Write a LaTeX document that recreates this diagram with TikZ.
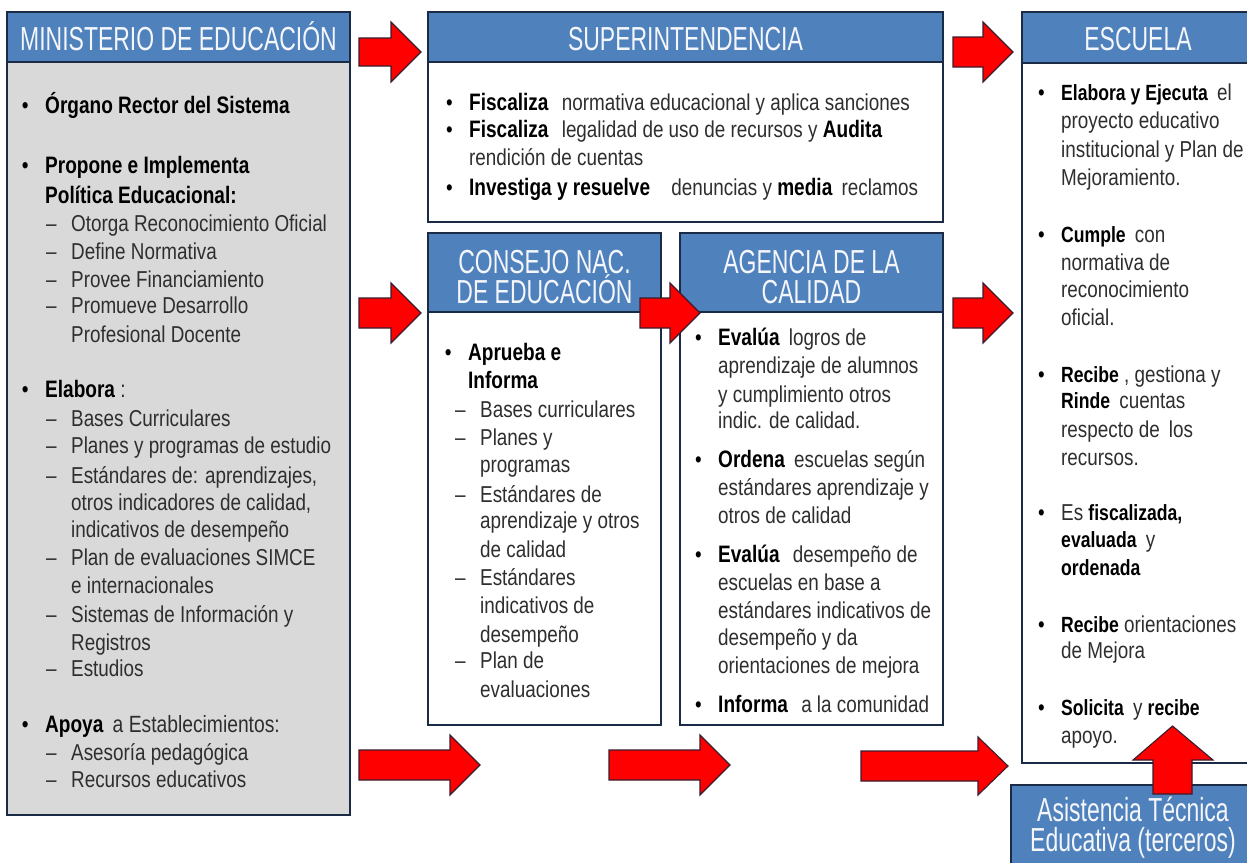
\documentclass[tikz,border=0pt]{standalone}
\usepackage{fontspec}
\setmainfont{Liberation Sans}[FakeStretch=0.82]
\newfontfamily\hdfont{Liberation Sans}[FakeStretch=0.69]
\newfontfamily\bfam{Liberation Sans}[FakeStretch=0.80]
\definecolor{hdr}{HTML}{4F81BD}
\definecolor{bord}{HTML}{1C2B45}
\definecolor{grayb}{HTML}{D9D9D9}
\definecolor{txt}{HTML}{2E2E2E}
\definecolor{arrred}{HTML}{FF0000}
\definecolor{arrbd}{HTML}{3B1C2C}
\definecolor{hdtxt}{HTML}{F4F6FA}
\newcommand\B[1]{{\bfam\fontsize{23.8}{28}\selectfont\bfseries\color{black}#1}}
\newcommand\Bs[1]{{\bfam\fontsize{22}{28}\selectfont\bfseries\color{black}#1}}
\newcommand\bu{\llap{\color{black}\textbullet\hspace{16.5pt}}}
\newcommand\da{\llap{–\hspace{14.5pt}}}
\newcommand\rarr[5]{%
  \draw[arr] (#1,#2-#4) -- (#1+#3-30,#2-#4) -- (#1+#3-30,#2-#5) -- (#1+#3,#2)
    -- (#1+#3-30,#2+#5) -- (#1+#3-30,#2+#4) -- (#1,#2+#4) -- cycle;}
\begin{document}
\begin{tikzpicture}[x=1pt,y=-1pt,
  bx/.style={draw=bord,line width=2.6pt},
  arr/.style={fill=arrred,draw=arrbd,line width=1.1pt,line join=miter},
  ln/.style={anchor=base west,inner sep=0pt,text=txt,font=\fontsize{23}{28}\selectfont},
  mb/.style={ln,font=\fontsize{23.5}{28}\selectfont},
  hd/.style={anchor=base,inner sep=0pt,text=hdtxt,font=\hdfont\fontsize{33.3}{33}\selectfont}]
\useasboundingbox (0,0) rectangle (1247,862);
\clip (0,0) rectangle (1247,862);
\fill[white] (0,0) rectangle (1247,862);

% Ministerio
\fill[hdr] (7,12) rectangle (350,62);
\fill[grayb] (7,62) rectangle (350,815);
\draw[bx] (7,62) -- (350,62);
\draw[bx] (7,12) rectangle (350,815);
% Superintendencia
\fill[hdr] (428,12) rectangle (943,62);
\fill[white] (428,62) rectangle (943,222);
\draw[bx] (428,62) -- (943,62);
\draw[bx] (428,12) rectangle (943,222);
% Consejo
\fill[hdr] (428,233) rectangle (661,312);
\draw[bx] (428,312) -- (661,312);
\draw[bx] (428,233) rectangle (661,725);
% Agencia
\fill[hdr] (680,233) rectangle (943,312);
\draw[bx] (680,312) -- (943,312);
\draw[bx] (680,233) rectangle (943,725);
% Escuela
\fill[hdr] (1022,12) rectangle (1262,63);
\draw[bx] (1022,63) -- (1262,63);
\draw[bx] (1022,12) rectangle (1262,763);
% Asistencia
\fill[hdr] (1011,785) rectangle (1262,875);
\draw[bx] (1011,785) rectangle (1262,875);

% headers
\node[hd] (hM) at (178.5,50) {MINISTERIO DE EDUCACIÓN};
\node[hd] (hS) at (685.5,50) {SUPERINTENDENCIA};
\node[hd] (hE) at (1138,50) {ESCUELA};
\node[hd] (hC1) at (544.5,273) {CONSEJO NAC.};
\node[hd] (hC2) at (544.5,303) {DE EDUCACIÓN};
\node[hd] (hA1) at (811.5,273) {AGENCIA DE LA};
\node[hd] (hA2) at (811.5,303) {CALIDAD};
\node[hd] (hT1) at (1133,821) {Asistencia Técnica};
\node[hd] (hT2) at (1133,851) {Educativa (terceros)};

% Ministerio text
\node[mb] (m1) at (45,113) {\bu\B{Órgano Rector del Sistema}};
\node[mb] (m2) at (45,173) {\bu\B{Propone e Implementa}};
\node[mb] (m3) at (45,203) {\B{Política Educacional:}};
\node[ln] (m4) at (71,231) {\da Otorga Reconocimiento Oficial};
\node[ln] (m5) at (71,259) {\da Define Normativa};
\node[ln] (m6) at (71,287) {\da Provee Financiamiento};
\node[ln] (m7) at (71,313) {\da Promueve Desarrollo};
\node[ln] (m8) at (71,342) {Profesional Docente};
\node[mb] (m9) at (45,397) {\bu\B{Elabora} :};
\node[ln] (m10) at (71,426) {\da Bases Curriculares};
\node[ln] (m11) at (71,453) {\da Planes y programas de estudio};
\node[ln] (m12) at (71,483) {\da Estándares de: aprendizajes,};
\node[ln] (m13) at (71,510) {otros indicadores de calidad,};
\node[ln] (m14) at (71,537) {indicativos de desempeño};
\node[ln] (m15) at (71,565) {\da Plan de evaluaciones SIMCE};
\node[ln] (m16) at (71,593) {e internacionales};
\node[ln] (m17) at (71,622) {\da Sistemas de Información y};
\node[ln] (m18) at (71,650) {Registros};
\node[ln] (m19) at (71,676) {\da Estudios};
\node[mb] (m20) at (45,732) {\bu\B{Apoya}\hspace{4pt} a Establecimientos:};
\node[ln] (m21) at (71,760) {\da Asesoría pedagógica};
\node[ln] (m22) at (71,787) {\da Recursos educativos};

% Superintendencia text
\node[ln] (s1) at (469,110) {\bu\B{Fiscaliza}\hspace{8pt} normativa educacional y aplica sanciones};
\node[ln] (s2) at (469,137) {\bu\B{Fiscaliza}\hspace{8pt} legalidad de uso de recursos y \B{Audita}};
\node[ln] (s3) at (469,165) {rendición de cuentas};
\node[ln] (s4) at (469,195) {\bu\B{Investiga y resuelve}\hspace{16pt} denuncias y \B{media}\hspace{4pt} reclamos};

% Consejo text
\node[mb] (c1) at (468,360) {\bu\B{Aprueba e}};
\node[mb] (c2) at (468,388) {\B{Informa}};
\node[ln] (c3) at (480,417) {\da Bases curriculares};
\node[ln] (c4) at (480,445) {\da Planes y};
\node[ln] (c5) at (480,472) {programas};
\node[ln] (c6) at (480,502) {\da Estándares de};
\node[ln] (c7) at (480,528) {aprendizaje y otros};
\node[ln] (c8) at (480,557) {de calidad};
\node[ln] (c9) at (480,585) {\da Estándares};
\node[ln] (c10) at (480,613) {indicativos de};
\node[ln] (c11) at (480,642) {desempeño};
\node[ln] (c12) at (480,668) {\da Plan de};
\node[ln] (c13) at (480,697) {evaluaciones};

% Agencia text
\node[ln] (a1) at (718,345) {\bu\B{Evalúa}\hspace{4pt} logros de};
\node[ln] (a2) at (718,373) {aprendizaje de alumnos};
\node[ln] (a3) at (718,402) {y cumplimiento otros};
\node[ln] (a4) at (718,428) {indic. de calidad.};
\node[ln] (a5) at (718,467) {\bu\B{Ordena}\hspace{4pt} escuelas según};
\node[ln] (a6) at (718,495) {estándares aprendizaje y};
\node[ln] (a7) at (718,523) {otros de calidad};
\node[ln] (a8) at (718,562) {\bu\B{Evalúa}\hspace{8pt} desempeño de};
\node[ln] (a9) at (718,590) {escuelas en base a};
\node[ln] (a10) at (718,618) {estándares indicativos de};
\node[ln] (a11) at (718,645) {desempeño y da};
\node[ln] (a12) at (718,673) {orientaciones de mejora};
\node[ln] (a13) at (718,712) {\bu\B{Informa}\hspace{8pt} a la comunidad};

% Escuela text
\node[ln] (e1) at (1061,100) {\bu\Bs{Elabora y Ejecuta}\hspace{4pt} el};
\node[ln] (e2) at (1061,128) {proyecto educativo};
\node[ln] (e3) at (1061,157) {institucional y Plan de};
\node[ln] (e4) at (1061,185) {Mejoramiento.};
\node[ln] (e5) at (1061,242) {\bu\Bs{Cumple}\hspace{4pt} con};
\node[ln] (e6) at (1061,270) {normativa de};
\node[ln] (e7) at (1061,297) {reconocimiento};
\node[ln] (e8) at (1061,325) {oficial.};
\node[ln] (e9) at (1061,382) {\bu\Bs{Recibe} , gestiona y};
\node[ln] (e10) at (1061,408) {\Bs{Rinde}\hspace{4pt} cuentas};
\node[ln] (e11) at (1061,437) {respecto de\hspace{4pt} los};
\node[ln] (e12) at (1061,465) {recursos.};
\node[ln] (e13) at (1061,520) {\bu Es \Bs{fiscalizada,}};
\node[ln] (e14) at (1061,547) {\Bs{evaluada}\hspace{4pt} y};
\node[ln] (e15) at (1061,575) {\Bs{ordenada}};
\node[ln] (e16) at (1061,632) {\bu\Bs{Recibe} orientaciones};
\node[ln] (e17) at (1061,658) {de Mejora};
\node[ln] (e18) at (1061,715) {\bu\Bs{Solicita}\hspace{4pt} y \Bs{recibe}};
\node[ln] (e19) at (1061,743) {apoyo.};

% block arrows
\rarr{359}{52}{62}{14}{30}
\rarr{359}{313}{62}{15}{30}
\rarr{640}{313}{60}{15}{30}
\rarr{953}{52}{60}{15}{30}
\rarr{953}{313}{60}{15}{30}
\rarr{359}{765}{121}{15}{30}
\rarr{609}{765}{121}{15}{30}
\rarr{861}{766}{147}{15}{29}
\draw[arr] (1153,794) -- (1153,760) -- (1133,760) -- (1172.5,726) -- (1213,760)
  -- (1192,760) -- (1192,794) -- cycle;
\end{tikzpicture}
\end{document}
